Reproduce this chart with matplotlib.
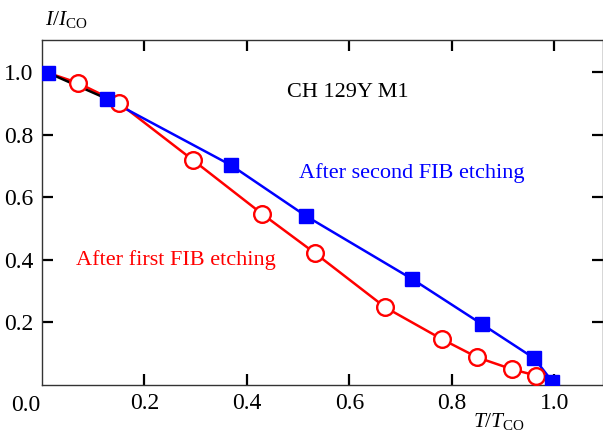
import numpy as np
import matplotlib
matplotlib.use("Agg")
import matplotlib.pyplot as plt
from matplotlib import transforms

plt.rcParams['font.family'] = 'Liberation Serif'
plt.rcParams['mathtext.fontset'] = 'custom'
plt.rcParams['mathtext.rm'] = 'Liberation Serif'
plt.rcParams['mathtext.it'] = 'Liberation Serif:italic'

# second FIB etching (blue squares)
t_second = [0.012, 0.127, 0.369, 0.516, 0.723, 0.859, 0.961, 0.996]
i_second = [0.997, 0.914, 0.702, 0.539, 0.338, 0.194, 0.085, 0.011]

# first FIB etching (red circles), starts from the common first point
t_first = [0.070, 0.150, 0.295, 0.430, 0.533, 0.670, 0.781, 0.850, 0.918, 0.965]
i_first = [0.965, 0.901, 0.718, 0.546, 0.421, 0.248, 0.146, 0.088, 0.050, 0.030]

xticks = [0.2, 0.4, 0.6, 0.8, 1.0]
yticks = [0.2, 0.4, 0.6, 0.8, 1.0]

fig = plt.figure(figsize=(6.03, 4.32), dpi=100)
ax = fig.add_axes([42/603, 1 - 385/432, 561/603, 345/432])

# red line from first point through circles
ax.plot([t_second[0]] + t_first, [i_second[0]] + i_first, color='red', lw=1.8, zorder=2)
ax.plot(t_first, i_first, ls='none', marker='o', ms=12, mfc='white', mec='red', mew=1.7, zorder=3)

# black segment before etching
ax.plot(t_second[:2], i_second[:2], color='black', lw=1.8, zorder=2.5)

# blue line
ax.plot(t_second[1:], i_second[1:], color='blue', lw=1.8, zorder=2)
ax.plot(t_second, i_second, ls='none', marker='s', ms=9.5, mfc='blue', mec='blue', zorder=4)

ax.set_xlim(0, 1.095)
ax.set_ylim(0, 1.102)
ax.set_xticks(xticks)
ax.set_xticklabels(['%.1f' % v for v in xticks])
ax.set_yticks(yticks)
ax.set_yticklabels(['%.1f' % v for v in yticks])
ax.tick_params(direction='in', length=8, width=1.6, labelsize=17,
               top=True, right=True, pad=6)
for s in ax.spines.values():
    s.set_linewidth(1.0)
    s.set_color('#333333')

trans = transforms.blended_transform_factory(ax.transData, ax.transAxes)
ax.text(-0.031, -0.058, '0.0', transform=trans, ha='center', va='center', fontsize=17)

ax.text(0.479, 0.933, 'CH 129Y M1', fontsize=16, ha='left', va='center')
ax.text(0.502, 0.677, 'After second FIB etching', fontsize=16, color='blue', ha='left', va='center')
ax.text(0.066, 0.398, 'After first FIB etching', fontsize=16, color='red', ha='left', va='center')

fig.text(45/603, 1 - 19/432, r'$I/I_{\mathrm{CO}}$', fontsize=15.5, ha='left', va='center')
fig.text(473/603, 1 - 421/432, r'$T/T_{\mathrm{CO}}$', fontsize=15.5, ha='left', va='center')

fig.savefig('out.png', dpi=100)
